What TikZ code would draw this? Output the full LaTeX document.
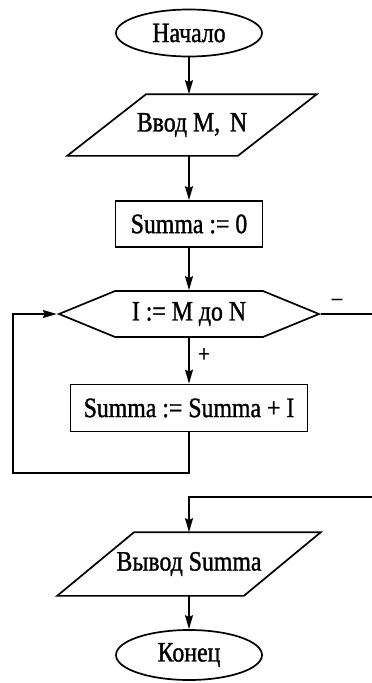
\documentclass[tikz,border=0pt]{standalone}
\usepackage{fontspec}
\setmainfont[FakeStretch=0.85,FakeBold=1.2]{Liberation Serif}
\usetikzlibrary{shapes.geometric,shapes.symbols,arrows.meta}
\newcommand{\slantbox}[2]{%
  \draw[line] ([xshift=-#2]#1.south west) -- ([xshift=-#2]#1.south east)
    -- ([xshift=#2]#1.north east) -- ([xshift=#2]#1.north west) -- cycle;}
\begin{document}
\begin{tikzpicture}[x=1pt,y=-1pt,
  every node/.style={font=\fontsize{28}{30}\selectfont, inner sep=0pt, line width=1.7pt},
  line/.style={line width=1.7pt, line join=miter},
  arr/.style={line, -{Stealth[length=14pt,width=8pt,inset=2pt]}},
  term/.style={draw, ellipse, minimum width=146pt, minimum height=47pt},
  io/.style={rectangle, draw=none},
  proc/.style={draw, rectangle, minimum height=46pt},
  loophead/.style={draw, signal, signal to=east and west, signal pointer angle=44.6, minimum height=46pt, minimum width=260pt},
  small/.style={font=\fontsize{24}{26}\selectfont}
]
\useasboundingbox (0,0) rectangle (372,683);
\node[term] (start) at (189,33) {Начало};
\node[io, minimum width=169pt, minimum height=60pt] (in) at (192,125) {Ввод M,\hspace{0.35em}N};
\slantbox{in}{39.5}
\node[proc, minimum width=147pt] (init) at (189,224) {Summa := 0};
\node[loophead] (loop) at (189,314) {I := M до N};
\node[proc, minimum width=237pt, minimum height=47pt] (body) at (189,408) {Summa := Summa + I};
\node[io, minimum width=185pt, minimum height=62pt] (out) at (189,564) {Вывод Summa};
\slantbox{out}{38.5}
\node[term, minimum height=50pt] (stop) at (189,655) {Конец};
\node[small] (plus) at (204,355) {+};
\node[small] (minus) at (337,302) {–};
\coordinate (lb) at (13,473);
\coordinate (ex) at (378,497);
\draw[arr] (start) -- (start |- in.north);
\draw[arr] (in.south -| init.north) -- (init);
\draw[arr] (init) -- (loop);
\draw[arr] (loop) -- (body);
\draw[arr] (body.south) |- (lb) |- (loop.west);
\draw[arr] (loop.east) -| (ex) -| (out.north);
\draw[arr] (out) -- (stop);
\end{tikzpicture}
\end{document}
